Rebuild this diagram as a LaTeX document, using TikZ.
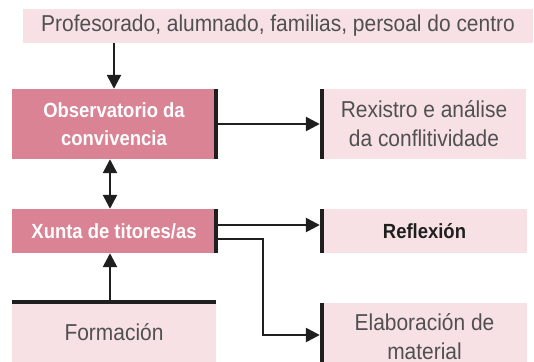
\documentclass[tikz,border=0pt]{standalone}
\usepackage{fontspec}
\setmainfont{Liberation Sans}
\newfontfamily\lgt{Liberation Sans}[FakeStretch=0.91]
\newfontfamily\cnd{Liberation Sans}[FakeStretch=0.9]
\usetikzlibrary{arrows.meta}
\definecolor{darkpink}{HTML}{D98394}
\definecolor{lightpink}{HTML}{F7E1E5}
\definecolor{ink}{HTML}{1F1F1F}
\definecolor{greytext}{HTML}{505050}
\tikzset{
  lightbox/.style={fill=lightpink, draw=none, inner sep=0pt, align=center, text=greytext,
    font=\lgt\fontsize{23}{29}\selectfont},
  darkbox/.style={fill=darkpink, draw=none, inner sep=0pt, align=center, text=white,
    font=\cnd\bfseries\fontsize{20.5}{28.5}\selectfont},
  arr/.style={draw=ink, line width=2.5pt, -{Triangle[length=14pt,width=14pt]}},
  dblarr/.style={draw=ink, line width=2.5pt, {Triangle[length=14pt,width=14pt]}-{Triangle[length=14pt,width=14pt]}},
  bar/.style={draw=ink, line width=4pt, line cap=butt}
}
\begin{document}
\begin{tikzpicture}[x=1pt,y=-1pt]
\useasboundingbox (0,0) rectangle (534,361);
\clip (0,0) rectangle (534,361);
% boxes
\node[lightbox, minimum width=510pt, minimum height=34pt] (top) at (278,26) {Profesorado, alumnado, familias, persoal do centro};
\node[darkbox, minimum width=204pt, minimum height=70pt] (obs) at (114,124) {Observatorio da\\convivencia};
\node[lightbox, minimum width=204pt, minimum height=70pt] (rex) at (424,124) {Rexistro e análise\\da conflitividade};
\node[darkbox, minimum width=204pt, minimum height=44pt] (xunta) at (114,231) {Xunta de titores/as};
\node[lightbox, minimum width=205pt, minimum height=44pt, text=ink, font=\cnd\bfseries\fontsize{20.5}{28.5}\selectfont] (refl) at (424.5,231) {Reflexión};
\node[lightbox, minimum width=204pt, minimum height=60pt] (form) at (114,332) {Formación};
\node[lightbox, minimum width=205pt, minimum height=68pt] (elab) at (424.5,337) {Elaboración de\\material};
% helper coordinates
\coordinate (elb) at (263,239);
\coordinate (elabin) at ([yshift=2pt,xshift=-2pt]elab.west);
% connectors
\draw[arr] (obs.north |- top.south) -- (obs.north);
\draw[dblarr] ([xshift=-4pt]obs.south) -- ([xshift=-4pt]obs.south |- xunta.north);
\draw[arr] ([xshift=-4pt]form.north) -- ([xshift=-4pt]form.north |- xunta.south);
\draw[arr] (obs.east) -- ([xshift=-2pt]rex.west);
\draw[arr] ([yshift=6pt]xunta.east) -- ([yshift=6pt,xshift=-2pt]refl.west);
\draw[arr] ([yshift=-8pt]xunta.east) -- ([yshift=-8pt]xunta.east -| elb) |- (elabin);
% bars
\draw[bar] (obs.north east) -- (obs.south east);
\draw[bar] (xunta.north east) -- (xunta.south east);
\draw[bar] (rex.north west) -- (rex.south west);
\draw[bar] (refl.north west) -- (refl.south west);
\draw[bar] (elab.north west) -- (elab.south west);
\draw[bar] (form.north west) -- (form.north east);
\end{tikzpicture}
\end{document}
